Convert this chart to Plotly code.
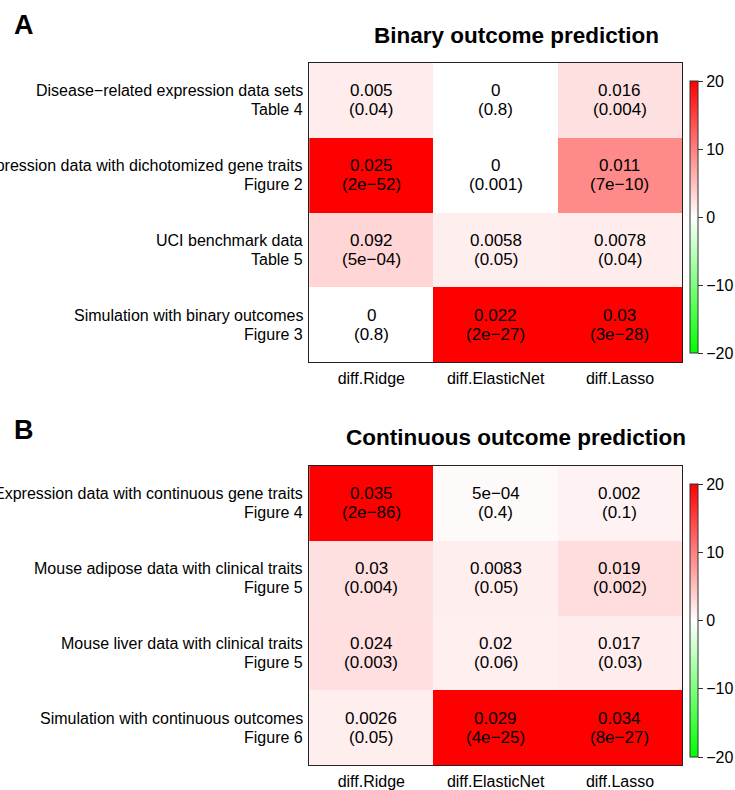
import numpy as np
import plotly.graph_objects as go

W, H = 735, 790
FONT = "Liberation Sans, Arial, Helvetica, sans-serif"

methods = ["diff.Ridge", "diff.ElasticNet", "diff.Lasso"]

# Panel A: binary outcome prediction
rows_a = ["Disease\u2212related expression data sets|Table 4",
          "Expression data with dichotomized gene traits|Figure 2",
          "UCI benchmark data|Table 5",
          "Simulation with binary outcomes|Figure 3"]
diff_a = [["0.005", "0", "0.016"],
          ["0.025", "0", "0.011"],
          ["0.092", "0.0058", "0.0078"],
          ["0", "0.022", "0.03"]]
pval_a = [["0.04", "0.8", "0.004"],
          ["2e\u221252", "0.001", "7e\u221210"],
          ["5e\u221204", "0.05", "0.04"],
          ["0.8", "2e\u221227", "3e\u221228"]]

# Panel B: continuous outcome prediction
rows_b = ["Expression data with continuous gene traits|Figure 4",
          "Mouse adipose data with clinical traits|Figure 5",
          "Mouse liver data with clinical traits|Figure 5",
          "Simulation with continuous outcomes|Figure 6"]
diff_b = [["0.035", "5e\u221204", "0.002"],
          ["0.03", "0.0083", "0.019"],
          ["0.024", "0.02", "0.017"],
          ["0.0026", "0.029", "0.034"]]
pval_b = [["2e\u221286", "0.4", "0.1"],
          ["0.004", "0.05", "0.002"],
          ["0.003", "0.06", "0.03"],
          ["0.05", "4e\u221225", "8e\u221227"]]

colorscale = [[0.0, "rgb(0,255,0)"], [0.5, "rgb(255,255,255)"], [1.0, "rgb(255,0,0)"]]


def num(s):
    return float(s.replace("\u2212", "-"))


def zvals(diffs, pvals):
    d = np.array([[num(v) for v in r] for r in diffs])
    p = np.array([[num(v) for v in r] for r in pvals])
    return np.sign(d) * np.minimum(-np.log10(p), 20)


def py(px):
    return 1 - px / H


def pxx(px):
    return px / W


fig = go.Figure()
panels = [(rows_a, diff_a, pval_a, "coloraxis", "x", "y"),
          (rows_b, diff_b, pval_b, "coloraxis2", "x2", "y2")]
for rows, diffs, pvals, cax, xa, ya in panels:
    fig.add_trace(go.Heatmap(x=methods, y=rows, z=zvals(diffs, pvals),
                             coloraxis=cax, xaxis=xa, yaxis=ya, hoverinfo="skip"))
    for i, r in enumerate(rows):
        l1, l2 = r.split("|")
        for txt, sh in ((l1, 9.5), (l2, -9.5)):
            fig.add_annotation(text=txt, x=pxx(306), xref="paper", y=r, yref=ya,
                               xanchor="right", yanchor="middle", yshift=sh, showarrow=False,
                               font=dict(family=FONT, size=16, color="black"))
        for j, m in enumerate(methods):
            for txt, sh in ((diffs[i][j], 9.5), ("(" + pvals[i][j] + ")", -9.5)):
                fig.add_annotation(text=txt, x=m, xref=xa, y=r, yref=ya,
                                   xanchor="center", yanchor="middle", yshift=sh, showarrow=False,
                                   font=dict(family=FONT, size=17, color="black"))

xdom = [pxx(310), pxx(684)]
axis_common = dict(showline=True, linecolor="#222", linewidth=1, mirror=True,
                   showgrid=False, zeroline=False, automargin=False,
                   tickfont=dict(family=FONT, size=16, color="black"),
                   ticks="outside", tickcolor="rgba(0,0,0,0)")


def cbar(yc, ln):
    return dict(colorscale=colorscale, cmin=-20, cmax=20,
                colorbar=dict(x=pxx(692), xanchor="left", y=py(yc), yanchor="middle",
                              len=ln, lenmode="pixels", thickness=8, thicknessmode="pixels",
                              xpad=0, ypad=0, outlinecolor="#333", outlinewidth=1,
                              tickvals=[-20, -10, 0, 10, 20], ticks="outside", ticklen=5,
                              tickcolor="#333", tickfont=dict(family=FONT, size=16, color="black")))


fig.update_layout(
    width=W, height=H, margin=dict(l=0, r=0, t=0, b=0),
    paper_bgcolor="white", plot_bgcolor="white",
    xaxis=dict(domain=xdom, anchor="y", ticklen=2, **axis_common),
    yaxis=dict(domain=[py(362), py(63)], anchor="x", autorange="reversed",
               showticklabels=False, **axis_common),
    xaxis2=dict(domain=xdom, anchor="y2", ticklen=2, **axis_common),
    yaxis2=dict(domain=[py(765), py(466)], anchor="x2", autorange="reversed",
                showticklabels=False, **axis_common),
    coloraxis=cbar(217, 272),
    coloraxis2=cbar(620.5, 273),
    showlegend=False,
)

annots = [
    dict(text="<b>A</b>", x=pxx(12), y=py(25), xanchor="left", size=27),
    dict(text="<b>Binary outcome prediction</b>", x=pxx(518), y=py(35), xanchor="center", size=22.5),
    dict(text="<b>B</b>", x=pxx(12), y=py(430), xanchor="left", size=27),
    dict(text="<b>Continuous outcome prediction</b>", x=pxx(517), y=py(438), xanchor="center", size=22.5),
]
for a in annots:
    fig.add_annotation(text=a["text"], x=a["x"], y=a["y"], xref="paper", yref="paper",
                       xanchor=a["xanchor"], yanchor="middle", showarrow=False,
                       font=dict(family=FONT, size=a["size"], color="black"))

fig.write_html("out.html", config={"displayModeBar": False},
               post_script="document.body.style.margin='0px';")
